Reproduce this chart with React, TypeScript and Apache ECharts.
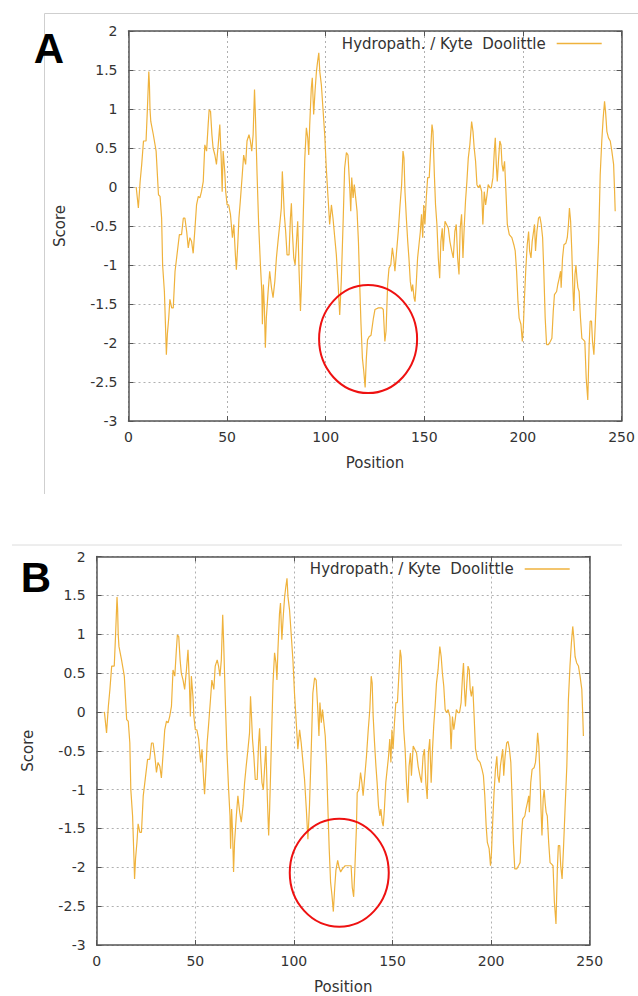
import { useEffect, useRef } from "react";
import * as echarts from "echarts";

const SERIES_NAME = "Hydropath. / Kyte  Doolittle";
const X_MIN = 0;
const X_MAX = 250;
const X_STEP = 50;
const Y_MIN = -3;
const Y_MAX = 2;
const Y_STEP = 0.5;
const LINE_COLOR = "#EFB23C";

// [position, score]; shared by both profiles
const leadingPoints: [number, number][] = [
  [3.9, 0.0], [5.0, -0.27], [5.9, 0.07], [6.7, 0.29], [7.6, 0.59], [8.9, 0.59], [9.6, 1.01], [10.3, 1.48],
  [10.6, 1.33], [10.9, 1.0], [11.3, 0.84], [12.6, 0.67], [14.0, 0.46], [15.2, -0.1], [16.0, -0.12], [16.8, -0.4],
  [17.3, -1.0], [18.2, -1.34], [18.9, -1.89], [19.2, -2.15], [19.7, -1.89], [20.4, -1.68], [21.0, -1.44], [21.9, -1.55],
  [22.7, -1.55], [23.6, -1.08], [24.4, -0.91], [25.8, -0.61], [26.9, -0.61], [27.8, -0.4], [28.6, -0.4], [29.5, -0.57],
  [30.3, -0.78], [31.1, -0.65], [32.0, -0.7], [32.8, -0.85], [33.7, -0.53], [34.5, -0.23], [35.4, -0.12], [36.2, -0.14],
  [37.0, -0.06], [37.9, 0.07], [38.7, 0.54], [39.6, 0.46], [40.4, 0.8], [40.9, 0.99], [41.6, 0.97], [42.3, 0.67],
  [42.9, 0.5], [43.8, 0.41], [44.6, 0.29], [45.5, 0.54], [46.3, 0.8], [47.0, 0.37], [47.5, -0.06], [48.0, 0.46],
  [48.8, 0.2], [49.3, -0.06], [50.0, -0.23], [50.8, -0.23], [51.7, -0.35], [52.7, -0.65], [53.4, -0.48], [54.2, -0.87],
  [54.7, -1.06], [55.4, -0.74], [56.0, -0.4], [56.7, -0.18], [57.7, 0.16], [58.4, 0.41], [59.4, 0.29], [60.1, 0.59],
  [61.1, 0.67], [61.8, 0.59], [62.5, 0.46], [63.2, 0.67], [63.9, 1.25], [64.4, 0.88], [65.2, 0.16], [66.0, -0.48],
  [66.9, -1.0], [67.6, -1.34], [67.9, -1.76], [68.4, -1.25], [68.9, -1.55], [69.4, -2.06], [69.9, -1.68], [70.8, -1.34],
  [71.6, -1.08], [72.5, -1.29], [73.3, -1.42], [74.2, -1.21], [75.0, -0.91], [75.8, -0.7], [76.7, -0.48], [77.5, -0.27],
  [78.0, 0.2], [78.5, -0.06], [79.0, -0.35], [79.7, -0.57], [80.4, -0.87], [81.4, -0.87], [82.1, -0.4], [82.6, -0.21],
  [83.1, -0.57], [83.8, -0.91], [84.5, -1.0], [85.1, -0.74], [85.8, -0.44], [86.5, -1.08], [87.2, -1.59], [87.7, -1.25],
  [88.5, -0.48], [89.4, 0.37], [90.2, 0.76], [90.9, 0.63], [91.4, 0.41], [91.9, 0.8], [92.7, 1.27], [93.2, 1.4],
  [93.9, 0.93], [94.6, 1.23], [95.3, 1.48], [95.9, 1.61], [96.5, 1.72], [97.0, 1.48], [97.8, 1.31], [98.6, 1.01],
  [99.5, 0.67], [100.3, 0.24], [101.2, -0.14], [102.0, -0.48], [102.9, -0.23], [103.7, -0.4], [104.6, -0.65], [105.4, -0.87],
  [106.3, -1.25], [107.1, -1.64], [107.9, -1.21], [108.8, -0.48], [109.6, 0.24], [110.5, 0.44], [111.3, 0.41], [112.2, -0.01],
  [112.7, -0.31], [113.2, 0.12], [113.9, -0.14], [114.5, 0.03], [115.2, -0.14], [115.9, -0.31], [116.6, -0.7], [117.2, -1.21],
  [117.9, -1.76],
];

// circled region, profile A
const circledPointsA: [number, number][] = [
  [118.6, -2.19], [119.3, -2.36], [120.0, -2.57], [120.6, -2.2], [121.2, -1.96], [122.0, -1.92], [123.0, -1.9],
  [124.2, -1.68], [125.0, -1.57], [126.7, -1.55], [128.4, -1.55], [129.2, -1.57], [130.0, -1.98], [130.6, -1.85],
  [131.4, -1.25],
];

// circled region, profile B
const circledPointsB: [number, number][] = [
  [118.6, -2.19], [119.3, -2.36], [120.0, -2.57], [120.7, -2.26], [121.3, -2.04], [122.2, -1.91], [122.9, -2.0],
  [123.7, -2.06], [124.6, -2.02], [126.0, -1.98], [127.7, -1.98], [129.0, -1.98], [129.6, -2.26], [130.3, -2.38],
  [130.8, -2.09], [131.7, -1.49],
];

const trailingPoints: [number, number][] = [
  [132.1, -1.04], [133.0, -1.0], [133.8, -0.78], [134.5, -0.91], [135.1, -1.08], [135.8, -0.87], [136.8, -0.57], [137.7, -0.23],
  [138.5, 0.03], [139.2, 0.46], [139.7, 0.37], [140.2, -0.06], [140.9, -0.4], [141.6, -0.7], [142.2, -0.91], [142.9, -1.21],
  [143.6, -1.34], [144.1, -1.25], [144.8, -1.42], [145.3, -1.47], [145.9, -1.25], [146.6, -0.91], [147.3, -0.74], [148.0, -0.57],
  [148.6, -0.35], [149.2, -0.65], [149.7, -0.23], [150.3, -0.48], [151.0, -0.14], [151.7, 0.12], [152.5, 0.12], [153.2, 0.46],
  [153.9, 0.8], [154.4, 0.71], [155.1, 0.16], [155.7, -0.23], [156.4, -0.48], [157.1, -0.91], [157.8, -1.17], [158.4, -0.7],
  [159.1, -0.53], [159.6, -0.82], [160.5, -0.44], [161.3, -0.48], [162.2, -0.53], [163.0, -0.7], [163.9, -0.82], [164.7, -0.91],
  [165.5, -0.57], [166.2, -0.48], [166.9, -0.91], [167.6, -1.12], [168.2, -0.53], [168.9, -0.35], [169.6, -0.91], [170.3, -0.48],
  [170.9, -0.18], [171.6, 0.07], [172.3, 0.37], [173.1, 0.54], [174.0, 0.84], [174.7, 0.71], [175.3, 0.5], [176.0, 0.33],
  [176.7, 0.03], [177.4, -0.01], [178.2, 0.03], [179.1, -0.06], [179.7, -0.48], [180.4, -0.06], [181.1, -0.23], [181.8, -0.1],
  [182.4, 0.03], [183.3, -0.01], [184.0, -0.01], [184.8, 0.12], [185.5, 0.46], [186.0, 0.63], [186.5, 0.29], [187.0, 0.07],
  [187.7, 0.37], [188.3, 0.59], [188.9, 0.54], [189.4, 0.29], [190.0, 0.2], [190.7, 0.33], [191.4, -0.06], [192.1, -0.48],
  [193.1, -0.61], [194.4, -0.65], [195.4, -0.74], [196.1, -0.82], [196.8, -1.08], [197.5, -1.47], [198.1, -1.68], [199.0, -1.76],
  [199.7, -1.98], [200.2, -1.81], [200.8, -1.42], [201.5, -1.04], [202.2, -0.74], [202.9, -0.57], [203.4, -0.82], [204.1, -0.91],
  [204.7, -0.7], [205.4, -0.57], [205.9, -0.48], [206.4, -0.82], [207.1, -0.57], [207.9, -0.4], [208.6, -0.38], [209.3, -0.48],
  [210.0, -0.65], [210.6, -1.08], [211.3, -1.68], [212.0, -2.02], [213.0, -2.02], [213.9, -1.98], [214.7, -1.94], [215.4, -1.59],
  [216.0, -1.38], [217.1, -1.34], [217.7, -1.25], [218.4, -1.17], [219.1, -1.08], [219.4, -1.29], [220.1, -0.91], [220.8, -0.74],
  [221.8, -0.72], [222.5, -0.65], [223.1, -0.48], [223.6, -0.27], [224.2, -0.44], [224.8, -0.82], [225.3, -1.25], [225.8, -1.59],
  [226.4, -1.12], [226.9, -1.0], [227.4, -1.17], [227.9, -1.29], [228.5, -1.34], [229.2, -1.68], [229.9, -1.94], [230.7, -1.96],
  [231.4, -1.98], [232.1, -2.45], [232.9, -2.73], [233.6, -2.02], [234.1, -1.72], [234.8, -1.72], [235.3, -1.98], [236.0, -2.15],
  [236.7, -1.76], [237.5, -1.25], [238.4, -0.7], [239.2, 0.16], [240.0, 0.59], [240.7, 0.88], [241.4, 1.1], [241.9, 0.97],
  [242.6, 0.71], [243.4, 0.63], [244.3, 0.59], [245.1, 0.46], [246.0, 0.29], [246.5, -0.06], [246.8, -0.31],
];

// circle annotation centres, in data units
const circleCentreA: [number, number] = [121.5, -1.95];
const circleCentreB: [number, number] = [123.0, -2.07];

const FONT = "'DejaVu Sans', sans-serif";
const BORDER = "#555555";

function axisPair(grid: number, dim: "x" | "y") {
  const isX = dim === "x";
  const base = {
    type: "value" as const,
    gridIndex: grid,
    min: isX ? X_MIN : Y_MIN,
    max: isX ? X_MAX : Y_MAX,
    interval: isX ? X_STEP : Y_STEP,
    axisLine: { show: true, onZero: false, lineStyle: { color: BORDER, width: 1.5 } },
    axisTick: { show: true, inside: true, length: 5, lineStyle: { color: BORDER, width: 1 } },
  };
  const main = {
    ...base,
    position: isX ? "bottom" : "left",
    axisLabel: { color: "#333", fontSize: 14, fontFamily: FONT, margin: isX ? 9 : 11 },
    splitLine: { show: true, lineStyle: { color: "#b0b0b0", width: 1, type: [2, 3] } },
    name: isX ? "Position" : "Score",
    nameLocation: "middle",
    nameGap: isX ? 34 : 61,
    nameTextStyle: { color: "#333", fontSize: 15, fontFamily: FONT },
  };
  const mirror = {
    ...base,
    position: isX ? "top" : "right",
    axisLabel: { show: false },
    splitLine: { show: false },
  };
  return [main, mirror];
}

export default function App() {
  const ref = useRef<HTMLDivElement>(null);
  useEffect(() => {
    if (!ref.current) return;
    const chart = echarts.init(ref.current, undefined, { renderer: "svg" });
    const dataA = [...leadingPoints, ...circledPointsA, ...trailingPoints];
    const dataB = [...leadingPoints, ...circledPointsB, ...trailingPoints];
    const lineSeries = (idx: number, data: [number, number][]) => ({
      type: "line",
      name: SERIES_NAME,
      xAxisIndex: idx * 2,
      yAxisIndex: idx * 2,
      data,
      symbol: "none",
      showSymbol: false,
      silent: true,
      lineStyle: { color: LINE_COLOR, width: 1.2 },
      itemStyle: { color: LINE_COLOR },
    });
    const legend = (right: number, top: number) => ({
      data: [SERIES_NAME],
      right,
      top,
      align: "right",
      icon: "rect",
      itemWidth: 45,
      itemHeight: 1.5,
      padding: 0,
      selectedMode: false,
      textStyle: { fontSize: 15, color: "#333", fontFamily: FONT, padding: [0, 6, 0, 0] },
    });
    chart.setOption({
      animation: false,
      backgroundColor: "#ffffff",
      grid: [
        { left: 128.5, top: 31, width: 493, height: 390 },
        { left: 96.7, top: 556.5, width: 493, height: 388.5 },
      ],
      xAxis: [...axisPair(0, "x"), ...axisPair(1, "x")],
      yAxis: [...axisPair(0, "y"), ...axisPair(1, "y")],
      legend: [legend(36.3, 36), legend(68.3, 561.5)],
      series: [lineSeries(0, dataA), lineSeries(1, dataB)],
    });
    const cA = chart.convertToPixel({ gridIndex: 0 }, circleCentreA) as number[];
    const cB = chart.convertToPixel({ gridIndex: 1 }, circleCentreB) as number[];
    const ring = (c: number[], rx: number, ry: number) => ({
      type: "ellipse",
      shape: { cx: c[0], cy: c[1], rx, ry },
      style: { fill: "none", stroke: "#EE1111", lineWidth: 2 },
      z: 100,
    });
    chart.setOption({
      graphic: [
        { type: "line", shape: { x1: 44.5, y1: 13.5, x2: 638, y2: 13.5 }, style: { stroke: "#cfcfcf", lineWidth: 1 } },
        { type: "line", shape: { x1: 44.5, y1: 13.5, x2: 44.5, y2: 494 }, style: { stroke: "#cfcfcf", lineWidth: 1 } },
        { type: "line", shape: { x1: 12, y1: 545, x2: 622, y2: 545 }, style: { stroke: "#dcdcdc", lineWidth: 1 } },
        {
          type: "text", x: 49, y: 48,
          style: { text: "A", fontSize: 42, fontWeight: "bold", fontFamily: "'Liberation Sans', Arial, sans-serif", fill: "#000", align: "center", verticalAlign: "middle" },
        },
        {
          type: "text", x: 36, y: 577,
          style: { text: "B", fontSize: 42, fontWeight: "bold", fontFamily: "'Liberation Sans', Arial, sans-serif", fill: "#000", align: "center", verticalAlign: "middle" },
        },
        ring(cA, 49, 54),
        ring(cB, 49.5, 54),
      ],
    });
    return () => chart.dispose();
  }, []);
  return (
    <div
      ref={ref}
      style={{ position: "absolute", left: 0, top: 0, width: 638, height: 996, background: "#fff" }}
    />
  );
}
